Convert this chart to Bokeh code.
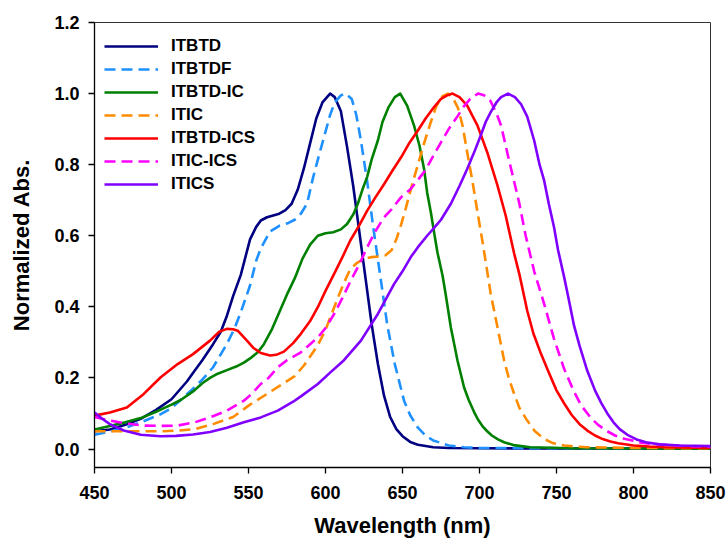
from bokeh.plotting import figure
from bokeh.models import Range1d, FixedTicker, NumeralTickFormatter, Legend, LegendItem
from bokeh.embed import file_html
from bokeh.resources import INLINE

# ---- data ----
itbtd_wl = [450, 460, 470, 480, 490, 500, 510, 515, 520, 527, 532, 536, 540, 545, 551, 555, 558, 562, 566, 570,
            574, 578, 582, 586, 590, 594, 598, 603, 606, 610, 614, 618, 622, 626, 630, 634, 638, 642, 646, 650,
            655, 660, 670, 680, 700, 850]
itbtd_ab = [0.05, 0.055, 0.068, 0.085, 0.11, 0.14, 0.19, 0.22, 0.25, 0.295, 0.33, 0.375, 0.43, 0.49, 0.59, 0.625,
            0.643, 0.652, 0.657, 0.662, 0.672, 0.69, 0.73, 0.79, 0.86, 0.93, 0.975, 1.0, 0.99, 0.95, 0.85, 0.74,
            0.61, 0.48, 0.35, 0.24, 0.15, 0.09, 0.056, 0.036, 0.02, 0.012, 0.005, 0.003, 0.002, 0.001]

itbtdf_wl = [450, 463, 470, 480, 493, 500, 514, 520, 527, 536, 541, 545, 551, 555, 558, 564, 570, 576, 580, 584,
             588, 592, 596, 599, 603, 606, 610, 613, 617, 620, 623, 627, 631, 636, 640, 645, 651, 655, 660, 665,
             670, 680, 690, 700, 850]
itbtdf_ab = [0.04, 0.052, 0.06, 0.075, 0.098, 0.115, 0.17, 0.195, 0.23, 0.296, 0.34, 0.385, 0.46, 0.53, 0.565,
             0.612, 0.628, 0.636, 0.645, 0.662, 0.69, 0.765, 0.83, 0.877, 0.94, 0.975, 0.995, 1.0, 0.985, 0.94,
             0.868, 0.755, 0.624, 0.474, 0.352, 0.239, 0.136, 0.095, 0.06, 0.038, 0.024, 0.01, 0.005, 0.003, 0.001]

itbtdic_wl = [450, 460, 470, 480, 490, 500, 506, 514, 520, 525, 530, 536, 542, 547, 552, 556, 560, 565, 570, 575,
              580, 585, 590, 595, 600, 605, 610, 614, 618, 621, 624, 627, 630, 634, 637, 641, 645, 648.5, 653,
              657.5, 661, 664, 666, 668.4, 670.5, 672.7, 676, 678, 681.4, 685.7, 690, 693, 696.5, 699, 702, 705,
              708, 712, 716, 722, 733, 760, 850]
itbtdic_ab = [0.055, 0.065, 0.075, 0.087, 0.105, 0.125, 0.138, 0.162, 0.185, 0.2, 0.212, 0.222, 0.232, 0.243,
              0.258, 0.272, 0.295, 0.335, 0.385, 0.435, 0.48, 0.535, 0.575, 0.6, 0.607, 0.61, 0.618, 0.633, 0.66,
              0.69, 0.73, 0.765, 0.815, 0.868, 0.92, 0.962, 0.99, 1.0, 0.966, 0.91, 0.854, 0.788, 0.722, 0.666,
              0.61, 0.553, 0.488, 0.436, 0.342, 0.249, 0.173, 0.138, 0.104, 0.083, 0.064, 0.05, 0.038, 0.027,
              0.019, 0.011, 0.005, 0.002, 0.001]

itic_wl = [450, 470, 493, 505, 515, 527, 540, 551, 562, 571, 580, 586, 590, 595, 600, 604, 608, 612, 616, 620,
           625, 630, 635, 639, 643, 646, 649, 652, 656, 660, 664, 668, 672, 676, 679.5, 683, 686, 689, 692,
           695.5, 698.7, 702, 705, 707.3, 711.7, 716, 719, 722.5, 726, 731, 736, 742, 748, 755, 762, 770, 785,
           800, 850]
itic_ab = [0.05, 0.05, 0.05, 0.052, 0.056, 0.07, 0.09, 0.125, 0.155, 0.18, 0.205, 0.235, 0.26, 0.292, 0.335, 0.38,
           0.425, 0.468, 0.505, 0.522, 0.535, 0.54, 0.542, 0.545, 0.56, 0.59, 0.63, 0.675, 0.74, 0.8, 0.86, 0.915,
           0.965, 0.993, 1.0, 0.985, 0.96, 0.91, 0.835, 0.751, 0.666, 0.582, 0.5, 0.436, 0.342, 0.249, 0.2,
           0.155, 0.115, 0.08, 0.05, 0.028, 0.016, 0.01, 0.007, 0.005, 0.004, 0.003, 0.002]

itbtdics_wl = [450, 460, 471, 482, 493, 504, 514, 525, 531, 536, 540, 543, 549, 553, 558, 564, 568, 573, 579, 584,
               590, 595, 600, 605.6, 611, 616, 622, 627, 632, 638, 643, 649, 654, 660, 665, 670.5, 675, 679, 682.5,
               687, 692, 698.7, 705, 711.7, 717, 722.5, 726, 731, 735, 740, 745, 750, 755, 760, 765, 770, 775, 780,
               785, 790, 800, 810, 820, 850]
itbtdics_ab = [0.094, 0.103, 0.117, 0.155, 0.202, 0.239, 0.267, 0.305, 0.33, 0.338, 0.337, 0.333, 0.305, 0.285,
               0.27, 0.263, 0.265, 0.274, 0.298, 0.324, 0.36, 0.399, 0.445, 0.493, 0.54, 0.586, 0.63, 0.67, 0.705,
               0.745, 0.78, 0.82, 0.858, 0.896, 0.93, 0.962, 0.985, 0.995, 1.0, 0.99, 0.966, 0.91, 0.835, 0.741,
               0.657, 0.55, 0.49, 0.389, 0.325, 0.267, 0.215, 0.165, 0.128, 0.095, 0.07, 0.052, 0.038, 0.028,
               0.021, 0.016, 0.01, 0.007, 0.005, 0.003]

iticics_wl = [450, 460, 470, 482, 495, 504, 515, 525, 536, 547, 552, 558, 563, 569, 575, 580, 584, 590, 595, 600,
              605.6, 611, 616.4, 622, 627, 632, 638, 643, 649, 655, 660, 665, 670, 675, 680, 686, 690, 694, 699,
              703, 707, 711, 714, 719, 725.7, 730, 735.5, 742, 748.4, 755, 761, 766, 772, 777, 783, 788, 794, 805,
              815, 830, 850]
iticics_ab = [0.09, 0.08, 0.072, 0.066, 0.065, 0.066, 0.075, 0.089, 0.108, 0.136, 0.155, 0.183, 0.2, 0.23, 0.25,
              0.262, 0.272, 0.295, 0.314, 0.34, 0.38, 0.425, 0.474, 0.52, 0.567, 0.61, 0.652, 0.675, 0.708, 0.73,
              0.757, 0.785, 0.825, 0.863, 0.9, 0.938, 0.965, 0.985, 1.0, 0.995, 0.98, 0.945, 0.91, 0.816, 0.694,
              0.6, 0.5, 0.408, 0.31, 0.225, 0.165, 0.123, 0.089, 0.068, 0.05, 0.038, 0.029, 0.018, 0.013, 0.009,
              0.006]

itics_wl = [450, 455, 460, 469, 480, 493, 503, 514, 525, 536, 547, 558, 569, 579, 584, 595, 603, 612, 623, 634,
            644.5, 650, 655.4, 660, 666, 670.5, 675, 681.4, 687, 692, 697, 700.8, 704, 707.3, 711, 714, 718.5, 723,
            727, 731, 735.5, 739, 742, 745, 748.4, 751, 755, 758, 761.4, 765, 770, 775, 779, 783, 787, 791, 796,
            802, 808, 817, 830, 850]
itics_ab = [0.103, 0.085, 0.07, 0.052, 0.04, 0.036, 0.037, 0.041, 0.048, 0.06, 0.075, 0.089, 0.108, 0.133, 0.148,
            0.183, 0.215, 0.25, 0.305, 0.38, 0.464, 0.5, 0.54, 0.568, 0.6, 0.622, 0.645, 0.69, 0.74, 0.788, 0.84,
            0.882, 0.92, 0.948, 0.975, 0.99, 1.0, 0.99, 0.97, 0.935, 0.868, 0.8, 0.755, 0.69, 0.624, 0.56, 0.483,
            0.42, 0.347, 0.29, 0.22, 0.165, 0.13, 0.1, 0.075, 0.056, 0.04, 0.027, 0.019, 0.013, 0.01, 0.008]

series_names = ["ITBTD", "ITBTDF", "ITBTD-IC", "ITIC", "ITBTD-ICS", "ITIC-ICS", "ITICS"]
series_wl = [itbtd_wl, itbtdf_wl, itbtdic_wl, itic_wl, itbtdics_wl, iticics_wl, itics_wl]
series_ab = [itbtd_ab, itbtdf_ab, itbtdic_ab, itic_ab, itbtdics_ab, iticics_ab, itics_ab]
series_colors = ["#000080", "#1E90FF", "#008000", "#FF8C00", "#FF0000", "#FF00FF", "#8000FF"]
series_dashed = [False, True, False, True, False, True, False]

x_ticks = [450, 500, 550, 600, 650, 700, 750, 800, 850]
y_ticks = [0.0, 0.2, 0.4, 0.6, 0.8, 1.0, 1.2]

FONT = "Liberation Sans"

p = figure(width=726, height=547, output_backend="svg", toolbar_location=None,
           x_range=Range1d(450, 850), y_range=Range1d(-0.052, 1.2),
           min_border_left=94, min_border_right=16, min_border_top=22, min_border_bottom=80)
p.background_fill_color = "white"
p.border_fill_color = "white"
p.outline_line_color = "#333333"
p.outline_line_width = 1
p.xgrid.visible = False
p.ygrid.visible = False

items = []
for name, wl, ab, col, dashed in zip(series_names, series_wl, series_ab, series_colors, series_dashed):
    r = p.line(wl, ab, line_color=col, line_width=2.6, line_join="round",
               line_dash="11 6" if dashed else "solid")
    items.append(LegendItem(label=name, renderers=[r]))

for ax in (p.xaxis[0], p.yaxis[0]):
    ax.axis_line_color = "black"
    ax.axis_line_width = 1.3
    ax.major_tick_line_color = "black"
    ax.major_tick_line_width = 1.3
    ax.major_tick_out = 6
    ax.major_tick_in = 0
    ax.minor_tick_line_color = None
    ax.major_label_text_font = FONT
    ax.major_label_text_font_style = "bold"
    ax.major_label_text_font_size = "18px"
    ax.major_label_text_color = "black"
    ax.axis_label_text_font = FONT
    ax.axis_label_text_font_style = "bold"
    ax.axis_label_text_font_size = "22px"
    ax.axis_label_text_color = "black"

p.xaxis.ticker = FixedTicker(ticks=x_ticks)
p.yaxis.ticker = FixedTicker(ticks=y_ticks)
p.yaxis.formatter = NumeralTickFormatter(format="0.0")
p.xaxis.axis_label = "Wavelength (nm)"
p.yaxis.axis_label = "Normalized Abs."
p.xaxis.major_label_standoff = 12
p.yaxis.major_label_standoff = 9
p.xaxis.axis_label_standoff = 11
p.yaxis.axis_label_standoff = 17

legend = Legend(items=items, location=(10, 273), border_line_color=None,
                background_fill_alpha=0, padding=0, margin=0, spacing=3,
                glyph_width=54, glyph_height=20, label_height=20, label_standoff=13,
                label_text_font=FONT, label_text_font_style="bold",
                label_text_font_size="17px", label_text_color="black")
p.add_layout(legend, "center")

open("out.html", "w").write(file_html(p, INLINE))
